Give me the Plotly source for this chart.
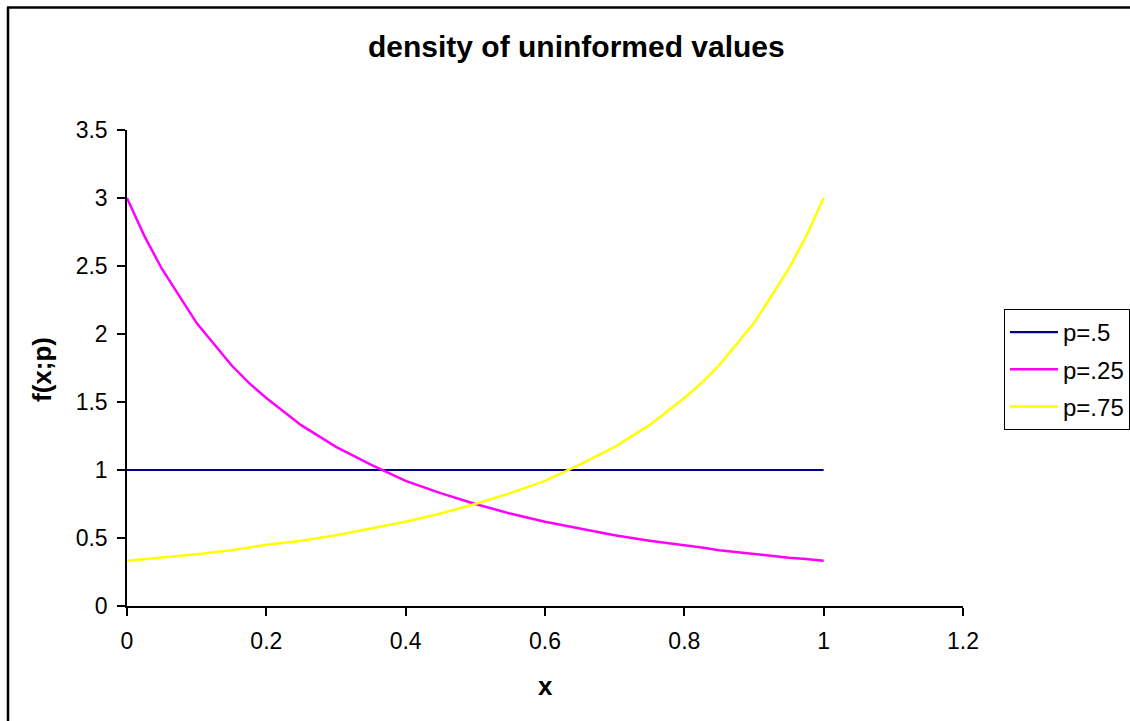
import plotly.graph_objects as go

# ---- data ----
x_flat = [0, 0.05, 0.1, 0.15, 0.2, 0.25, 0.3, 0.35, 0.4, 0.45, 0.5,
          0.55, 0.6, 0.65, 0.7, 0.75, 0.8, 0.85, 0.9, 0.95, 1.0]
y_p50 = [1.0] * len(x_flat)

x_curve = [0, 0.025, 0.05, 0.1, 0.15, 0.175, 0.2, 0.25, 0.3, 0.35, 0.4, 0.45, 0.5,
           0.55, 0.6, 0.65, 0.7, 0.75, 0.8, 0.825, 0.85, 0.9, 0.95, 0.975, 1.0]
y_p25 = [3.00, 2.72, 2.48, 2.08, 1.77, 1.64, 1.53, 1.33, 1.17, 1.04, 0.92, 0.83, 0.75,
         0.68, 0.62, 0.57, 0.52, 0.48, 0.45, 0.43, 0.41, 0.38, 0.355, 0.345, 0.333]
y_p75 = [0.333, 0.345, 0.355, 0.38, 0.41, 0.43, 0.45, 0.48, 0.52, 0.57, 0.62, 0.68, 0.75,
         0.83, 0.92, 1.04, 1.17, 1.33, 1.53, 1.64, 1.77, 2.08, 2.48, 2.72, 3.00]

names = ["p=.5", "p=.25", "p=.75"]
colors = ["#000080", "#FF00FF", "#FFFF00"]

title_text = "density of uninformed values"
x_title = "x"
y_title = "f(x;p)"

FONT = "Liberation Sans, Arial, sans-serif"

fig = go.Figure()
fig.add_trace(go.Scatter(x=x_flat, y=y_p50, name=names[0], mode="lines",
                         line=dict(color=colors[0], width=2.2), legendgroup="a"))
fig.add_trace(go.Scatter(x=x_curve, y=y_p25, name=names[1], mode="lines",
                         line=dict(color=colors[1], width=2.5), legendgroup="b"))
fig.add_trace(go.Scatter(x=x_curve, y=y_p75, name=names[2], mode="lines",
                         line=dict(color=colors[2], width=2.5), legendgroup="c"))

L, R, T, B = 127, 963, 130, 606
W, H = 1130, 721
pw, ph = R - L, B - T

def px(xp):
    return (xp - L) / pw

def py(yp):
    return (B - yp) / ph

axis_common = dict(showgrid=False, zeroline=False, showline=True, linecolor="black",
                   linewidth=1.5, ticks="outside", ticklen=8, tickcolor="black",
                   tickwidth=1.5, tickfont=dict(size=23, family=FONT, color="black"),
                   fixedrange=True, automargin=False)

fig.update_layout(
    width=W, height=H,
    margin=dict(l=L, r=W - R, t=T, b=H - B, pad=0, autoexpand=False),
    paper_bgcolor="white", plot_bgcolor="white",
    font=dict(family=FONT, size=22, color="black"),
    showlegend=True,
    legend=dict(x=px(1004), y=py(309), xanchor="left", yanchor="top",
                bordercolor="black", borderwidth=1, bgcolor="white",
                font=dict(family=FONT, size=24, color="black"),
                tracegroupgap=3, itemwidth=48),
    xaxis=dict(range=[0, 1.2], tickvals=[0, 0.2, 0.4, 0.6, 0.8, 1, 1.2],
               ticktext=["0", "0.2", "0.4", "0.6", "0.8", "1", "1.2"],
               ticklabelstandoff=6, **axis_common),
    yaxis=dict(range=[0, 3.5], tickvals=[0, 0.5, 1, 1.5, 2, 2.5, 3, 3.5],
               ticktext=["0", "0.5", "1", "1.5", "2", "2.5", "3", "3.5"],
               ticklabelstandoff=5, **axis_common),
)

fig.add_annotation(text="<b>" + title_text + "</b>", xref="paper", yref="paper",
                   x=px(576), y=py(47), xanchor="center", yanchor="middle",
                   showarrow=False, font=dict(family=FONT, size=30, color="black"))
fig.add_annotation(text="<b>" + x_title + "</b>", xref="paper", yref="paper",
                   x=px(545), y=py(686), xanchor="center", yanchor="middle",
                   showarrow=False, font=dict(family=FONT, size=26, color="black"))
fig.add_annotation(text="<b>" + y_title + "</b>", xref="paper", yref="paper",
                   x=px(42), y=py(370), xanchor="center", yanchor="middle",
                   textangle=-90, showarrow=False,
                   font=dict(family=FONT, size=26, color="black"))

# outer chart-area border: left and top edges only (others fall outside the window)
fig.add_shape(type="line", xref="paper", yref="paper",
              x0=px(8), x1=px(8), y0=py(760), y1=py(7),
              line=dict(color="black", width=2.5), layer="below")
fig.add_shape(type="line", xref="paper", yref="paper",
              x0=px(7), x1=px(1200), y0=py(7.5), y1=py(7.5),
              line=dict(color="black", width=2.5), layer="below")

fig.write_html("out.html")
